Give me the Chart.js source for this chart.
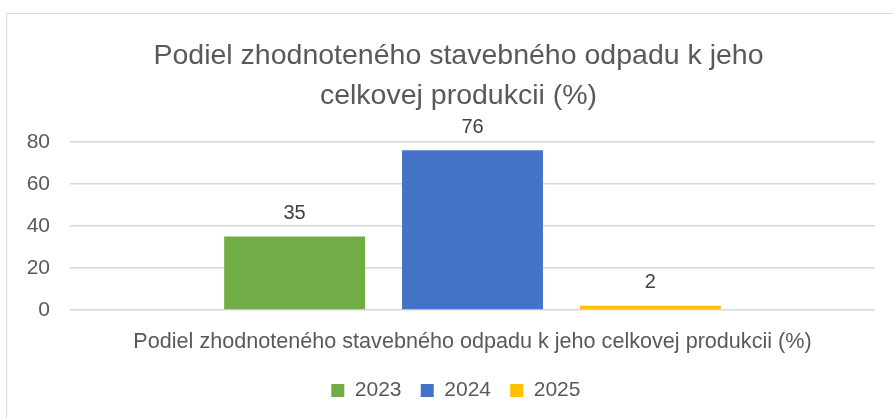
<!DOCTYPE html>
<html>
<head>
<meta charset="utf-8">
<script src="https://cdn.jsdelivr.net/npm/chart.js@4"></script>
<style>
  html, body { margin: 0; padding: 0; background: #fff; overflow: hidden; width: 893px; height: 419px; }
  #frame { position: absolute; left: 6px; top: 13px; width: 905px; height: 420px; border: 1px solid #d9d9d9; box-sizing: border-box; }
  #wrap { position: absolute; left: 0; top: 0; width: 903px; height: 418px; }
</style>
</head>
<body>
<div id="frame"><div id="wrap"><canvas id="chart"></canvas></div></div>
<script>
// údaje z grafu
const categories = ['Podiel zhodnoteného stavebného odpadu k jeho celkovej produkcii (%)'];
const years = ['2023', '2024', '2025'];
const values = [35, 76, 2];
const colors = ['#70AD47', '#4472C4', '#FFC000'];
const titleLines = ['Podiel zhodnoteného stavebného odpadu k jeho', 'celkovej produkcii (%)'];
const yTicks = [0, 20, 40, 60, 80];

const fontFamily = "'Liberation Sans', Arial, sans-serif";
const textColor = '#595959';

// popisky hodnôt nad stĺpcami
const valueLabels = {
    id: 'valueLabels',
    afterDatasetsDraw(chart) {
        const ctx = chart.ctx;
        ctx.save();
        ctx.font = '20px ' + fontFamily;
        ctx.fillStyle = '#404040';
        ctx.textAlign = 'center';
        ctx.textBaseline = 'middle';
        chart.data.datasets.forEach((ds, i) => {
            chart.getDatasetMeta(i).data.forEach((bar, j) => {
                ctx.fillText(ds.data[j], bar.x, bar.y - 23);
            });
        });
        ctx.restore();
    }
};

const datasets = years.map((y, i) => ({
    label: y,
    data: [values[i]],
    backgroundColor: colors[i],
    borderWidth: 0,
    categoryPercentage: 0.663,
    barPercentage: 0.792
}));

new Chart(document.getElementById('chart'), {
    type: 'bar',
    data: { labels: categories, datasets: datasets },
    plugins: [valueLabels],
    options: {
        responsive: true,
        maintainAspectRatio: false,
        animation: false,
        layout: { padding: { left: 0, right: 0, top: 0, bottom: 21 } },
        plugins: {
            title: {
                display: true,
                text: titleLines,
                color: textColor,
                font: { family: fontFamily, size: 28.5, weight: 'normal', lineHeight: 1.4 },
                padding: { top: 22, bottom: 26 }
            },
            legend: {
                position: 'bottom',
                labels: {
                    color: textColor,
                    font: { family: fontFamily, size: 21 },
                    boxWidth: 13,
                    boxHeight: 13,
                    padding: 14,
                    // trochu väčšia medzera medzi položkami
                    generateLabels(chart) {
                        return Chart.defaults.plugins.legend.labels.generateLabels(chart).map(l => {
                            l.text = l.text + '\u2005';
                            return l;
                        });
                    }
                }
            },
            tooltip: { enabled: false }
        },
        scales: {
            x: {
                grid: { display: false },
                border: { display: false },
                ticks: { color: textColor, font: { family: fontFamily, size: 21.6 }, padding: 11 }
            },
            y: {
                min: yTicks[0],
                max: yTicks[yTicks.length - 1],
                ticks: { stepSize: 20, color: textColor, font: { family: fontFamily, size: 21 }, padding: 20 },
                grid: { color: '#d9d9d9', lineWidth: 1.5, drawTicks: false },
                border: { display: false },
                afterFit(scale) { scale.width = 63; }
            },
            // prázdna os vpravo len kvôli okraju
            y2: {
                position: 'right',
                display: true,
                grid: { display: false },
                ticks: { display: false },
                border: { display: false },
                afterFit(scale) { scale.width = 35; }
            }
        }
    }
});
</script>
</body>
</html>
